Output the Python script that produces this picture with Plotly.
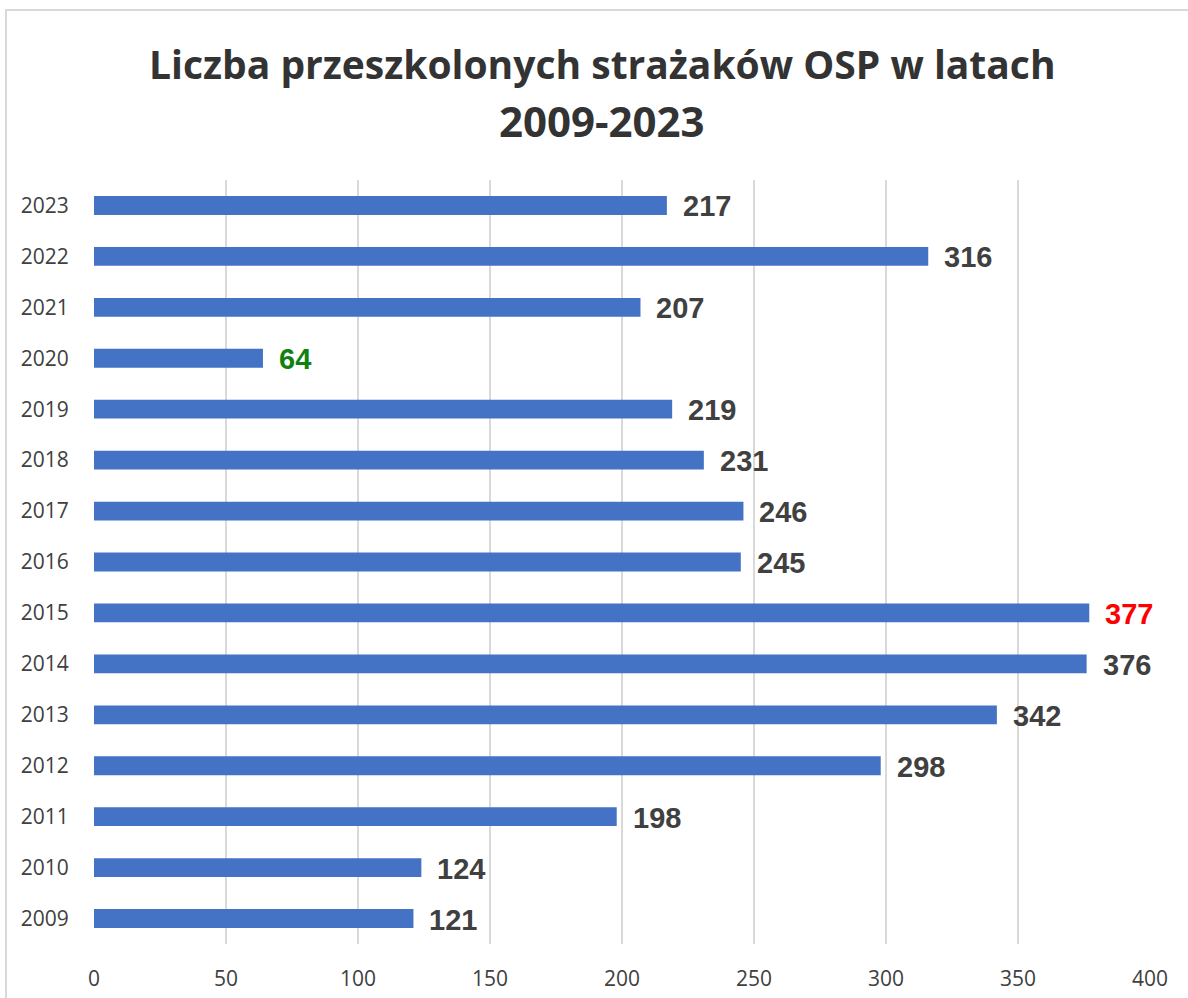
import plotly.graph_objects as go

years = ["2009", "2010", "2011", "2012", "2013", "2014", "2015", "2016",
         "2017", "2018", "2019", "2020", "2021", "2022", "2023"]
values = [121, 124, 198, 298, 342, 376, 377, 245, 246, 231, 219, 64, 207, 316, 217]
label_colors = ["#404040"] * len(years)
label_colors[years.index("2015")] = "#FF0000"
label_colors[years.index("2020")] = "#108010"

x_ticks = [0, 50, 100, 150, 200, 250, 300, 350, 400]
title_lines = ["Liczba przeszkolonych strażaków OSP w latach", "2009-2023"]
title_sizes = [39, 42]

W, H = 1188, 998
L, R, T, B = 94, 38, 180, 54
pw = W - L - R
ph = H - T - B

fig = go.Figure()
fig.add_trace(go.Bar(
    x=values, y=years, orientation="h",
    marker=dict(color="#4472C4", line=dict(width=0)),
    width=0.37, hoverinfo="x+y",
))

annotations = []
for i, (v, c) in enumerate(zip(values, label_colors)):
    annotations.append(dict(
        x=v, y=i, xref="x", yref="y", text="<b>%d</b>" % v, showarrow=False,
        xanchor="left", yanchor="middle", xshift=14, yshift=-1,
        font=dict(family="Liberation Sans, Arial, sans-serif", size=29, color=c),
    ))

for line, py, sz in zip(title_lines, [63, 120], title_sizes):
    annotations.append(dict(
        x=(602 - L) / pw, y=1 + (T - py) / ph, xref="paper", yref="paper",
        text="<b>%s</b>" % line, showarrow=False,
        xanchor="center", yanchor="middle",
        font=dict(family="Open Sans, sans-serif", size=sz, color="#333333"),
    ))

# chart border (top and left visible, rest clipped by the image)
fig.add_shape(type="rect", xref="paper", yref="paper",
              x0=(6 - L) / pw, x1=(1300 - L) / pw,
              y0=-(1100 - H + B) / ph, y1=1 + (T - 10) / ph,
              line=dict(color="#d9d9d9", width=2), layer="below")

fig.update_layout(
    width=W, height=H,
    margin=dict(l=L, r=R, t=T, b=B, pad=0, autoexpand=False),
    paper_bgcolor="white", plot_bgcolor="white",
    xaxis=dict(
        range=[0, 400], tickvals=x_ticks, ticktext=[str(t) for t in x_ticks],
        showgrid=True, gridcolor="#d9d9d9", gridwidth=1.5,
        zeroline=False, showline=False, automargin=False,
        ticks="outside", ticklen=16, tickcolor="rgba(0,0,0,0)",
        tickfont=dict(family="Open Sans, sans-serif", size=21, color="#404040"),
        fixedrange=True,
    ),
    yaxis=dict(
        type="category", categoryorder="array", categoryarray=years,
        showgrid=False, zeroline=False, showline=False, automargin=False,
        ticks="outside", ticklen=20, tickcolor="rgba(0,0,0,0)",
        tickfont=dict(family="Open Sans, sans-serif", size=21, color="#404040"),
        range=[-0.5, len(years) - 0.5],
    ),
    annotations=annotations,
    showlegend=False,
)

fig.write_html("out.html", config={"displayModeBar": False},
               post_script="document.body.style.margin='0';")
